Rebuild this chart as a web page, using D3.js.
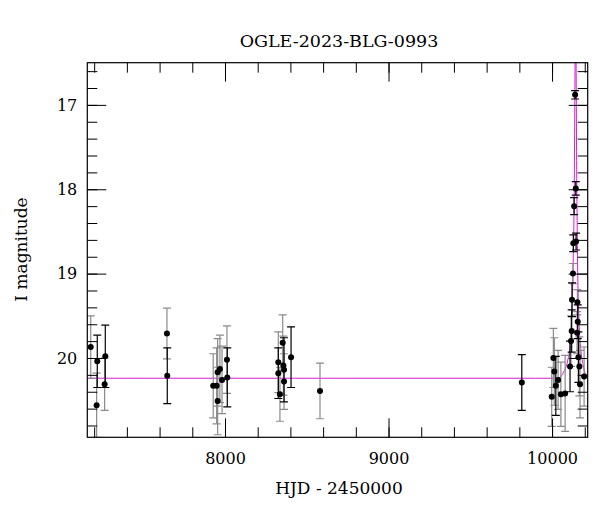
<!DOCTYPE html>
<html>
<head>
<meta charset="utf-8">
<script src="https://cdn.jsdelivr.net/npm/d3@7"></script>
<style>
  body { margin: 0; background: #fff; }
  text { font-family: "DejaVu Serif", serif; fill: #000; }
</style>
</head>
<body>
<svg width="600" height="512"></svg>
<script>
// photometry with grey error bars
let grayHjd = [7179, 7264, 7215, 7645, 7928, 7949, 7955, 7969, 7955, 7982, 8012,
    8326, 8336, 8353, 8357, 8361, 8581,
    9998, 10008, 10014, 10037, 10054, 10080, 10116, 10128, 10155, 10153, 10167, 10171, 10196];
let grayMag = [19.87, 20.31, 20.56, 19.71, 20.33, 20.33, 20.17, 20.13, 20.51, 20.26, 20.02,
    20.05, 20.43, 19.82, 20.09, 20.28, 20.39,
    20.46, 20.00, 20.16, 20.26, 20.43, 20.42, 19.80, 19.00, 19.34, 19.70, 20.10, 20.31, 20.22];
let grayErr = [0.37, 0.31, 0.38, 0.30, 0.38, 0.45, 0.40, 0.40, 0.40, 0.40, 0.40,
    0.36, 0.32, 0.33, 0.35, 0.33, 0.33,
    0.35, 0.35, 0.40, 0.35, 0.38, 0.45, 0.30, 0.12, 0.15, 0.25, 0.35, 0.40, 0.35];

// photometry with black error bars
let blackHjd = [7219, 7268, 7647, 8014, 8326, 8361, 8404, 9815,
    10023, 10110, 10120, 10122, 10130, 10147, 10141, 10145, 10135, 10157, 10161];
let blackMag = [20.04, 19.98, 20.21, 20.23, 20.18, 20.14, 19.99, 20.29,
    20.33, 20.10, 19.68, 19.31, 18.64, 18.62, 16.88, 17.99, 18.20, 19.57, 19.99];
let blackErr = [0.31, 0.37, 0.33, 0.35, 0.30, 0.38, 0.36, 0.33,
    0.35, 0.30, 0.25, 0.20, 0.10, 0.10, 0.05, 0.08, 0.10, 0.20, 0.30];

// model light curve
let modelHjd = [7158, 9900, 10018, 10049, 10067, 10086, 10098, 10110, 10119, 10128, 10135,
    10141, 10144, 10147, 10150, 10156, 10165, 10177, 10190, 10202, 10218];
let modelMag = [20.24, 20.24, 20.24, 20.23, 20.18, 20.10, 20.01, 19.86, 19.56, 18.97, 18.14,
    16.5, 15.8, 16.5, 17.55, 18.85, 19.56, 19.92, 20.08, 20.18, 20.21];

let xMinor = d3.range(7200, 10201, 200);
let xMajor = [8000, 9000, 10000];
let yMinor = d3.range(16.6, 20.9, 0.2).map(v => +v.toFixed(1));
let yMajor = [17, 18, 19, 20];

let plotLeft = 87.3, plotRight = 587.7, plotTop = 62.7, plotBottom = 437.3;

var svg = d3.select("svg");

var x = d3.scaleLinear().domain([7158, 10218]).range([plotLeft, plotRight]);
var y = d3.scaleLinear().domain([16.5, 20.94]).range([plotTop, plotBottom]);

svg.append("defs").append("clipPath").attr("id", "plot")
    .append("rect")
    .attr("x", plotLeft).attr("y", plotTop)
    .attr("width", plotRight - plotLeft).attr("height", plotBottom - plotTop);

var plot = svg.append("g").attr("clip-path", "url(#plot)");

// model
let model = modelHjd.map((t, i) => ({t: t, m: modelMag[i]}));
plot.append("path")
    .datum(model)
    .attr("fill", "none")
    .attr("stroke", "#d81ad8")
    .attr("stroke-width", 1)
    .attr("d", d3.line().x(d => x(d.t)).y(d => y(d.m)).curve(d3.curveMonotoneX));

function drawSet(hjd, mag, err, colour) {
    let data = hjd.map((t, i) => ({t: t, m: mag[i], e: err[i]}));
    let g = plot.append("g").attr("stroke", colour).attr("stroke-width", 1.2);
    g.selectAll(".bar").data(data).enter().append("line")
        .attr("x1", d => x(d.t)).attr("x2", d => x(d.t))
        .attr("y1", d => y(d.m - d.e)).attr("y2", d => y(d.m + d.e));
    g.selectAll(".capt").data(data).enter().append("line")
        .attr("x1", d => x(d.t) - 4).attr("x2", d => x(d.t) + 4)
        .attr("y1", d => y(d.m - d.e)).attr("y2", d => y(d.m - d.e));
    g.selectAll(".capb").data(data).enter().append("line")
        .attr("x1", d => x(d.t) - 4).attr("x2", d => x(d.t) + 4)
        .attr("y1", d => y(d.m + d.e)).attr("y2", d => y(d.m + d.e));
    return data;
}

let grayData = drawSet(grayHjd, grayMag, grayErr, "#8a8a8a");
let blackData = drawSet(blackHjd, blackMag, blackErr, "#000");

plot.selectAll(".pt").data(grayData.concat(blackData)).enter().append("circle")
    .attr("cx", d => x(d.t))
    .attr("cy", d => y(d.m))
    .attr("r", 3)
    .attr("fill", "#000");

// axes, ticks pointing inward on all four sides
function tickAxis(axis, size, tr) {
    let g = svg.append("g").attr("transform", tr).call(axis.tickSize(size));
    g.select(".domain").remove();
    g.selectAll("line").attr("stroke", "#000");
    return g;
}

tickAxis(d3.axisBottom(x).tickValues(xMinor).tickFormat(""), -10, `translate(0,${plotBottom})`);
tickAxis(d3.axisTop(x).tickValues(xMinor).tickFormat(""), -10, `translate(0,${plotTop})`);
tickAxis(d3.axisLeft(y).tickValues(yMinor).tickFormat(""), -10, `translate(${plotLeft},0)`);
tickAxis(d3.axisRight(y).tickValues(yMinor).tickFormat(""), -10, `translate(${plotRight},0)`);

let xb = tickAxis(d3.axisBottom(x).tickValues(xMajor).tickFormat(d3.format("d")).tickPadding(15),
    -19, `translate(0,${plotBottom})`);
tickAxis(d3.axisTop(x).tickValues(xMajor).tickFormat(""), -19, `translate(0,${plotTop})`);
let yl = tickAxis(d3.axisLeft(y).tickValues(yMajor).tickFormat(d3.format("d")).tickPadding(10),
    -19, `translate(${plotLeft},0)`);
tickAxis(d3.axisRight(y).tickValues(yMajor).tickFormat(""), -19, `translate(${plotRight},0)`);

xb.selectAll("text").style("font-family", "DejaVu Serif").style("font-size", "16px");
yl.selectAll("text").style("font-family", "DejaVu Serif").style("font-size", "16px");

svg.append("rect")
    .attr("x", plotLeft).attr("y", plotTop)
    .attr("width", plotRight - plotLeft).attr("height", plotBottom - plotTop)
    .attr("fill", "none").attr("stroke", "#000").attr("stroke-width", 1.2);

svg.append("text")
    .attr("x", 339).attr("y", 47)
    .attr("text-anchor", "middle")
    .style("font-size", "17.5px")
    .text("OGLE-2023-BLG-0993");

svg.append("text")
    .attr("x", 339).attr("y", 494)
    .attr("text-anchor", "middle")
    .style("font-size", "17px")
    .text("HJD - 2450000");

svg.append("text")
    .attr("transform", "translate(27,249.5) rotate(-90)")
    .attr("text-anchor", "middle")
    .style("font-size", "17px")
    .text("I magnitude");
</script>
</body>
</html>
